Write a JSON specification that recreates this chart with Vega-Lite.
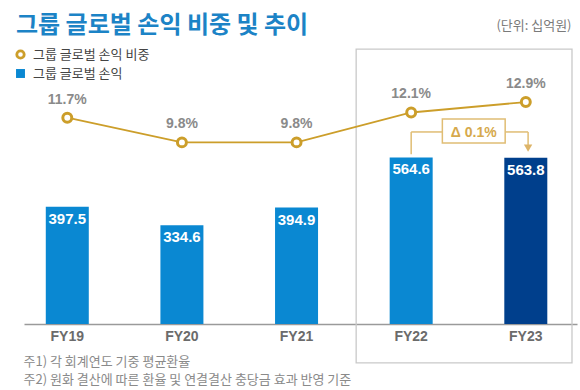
{
  "$schema": "https://vega.github.io/schema/vega-lite/v6.json",
  "width": 553,
  "height": 284,
  "autosize": "none",
  "padding": {"left": 24, "top": 40, "right": 3, "bottom": 66},
  "background": "white",
  "config": {"view": {"stroke": null}, "font": "Noto Sans CJK KR"},
  "title": {
    "text": "그룹 글로벌 손익 비중 및 추이",
    "anchor": "start",
    "frame": "group",
    "dx": -8,
    "offset": -19,
    "fontSize": 24,
    "fontWeight": "bold",
    "color": "#1C83C6",
    "font": "Noto Sans CJK KR"
  },
  "datasets": {
    "main": [
      {"year": "FY19", "idx": 1, "profit": 397.5, "share": 0.117},
      {"year": "FY20", "idx": 2, "profit": 334.6, "share": 0.098},
      {"year": "FY21", "idx": 3, "profit": 394.9, "share": 0.098},
      {"year": "FY22", "idx": 4, "profit": 564.6, "share": 0.121},
      {"year": "FY23", "idx": 5, "profit": 563.8, "share": 0.129}
    ],
    "highlight": [
      {"idx": 3.52, "idx2": 5.403, "lo": -132, "hi": 932}
    ],
    "bracket": [
      {"idx": 4, "idx2": 4, "lo": 575, "hi": 651},
      {"idx": 4, "idx2": 4.272, "lo": 651, "hi": 651},
      {"idx": 4.82, "idx2": 5.02, "lo": 651, "hi": 651},
      {"idx": 5.02, "idx2": 5.02, "lo": 603, "hi": 651}
    ],
    "arrow": [
      {"idx": 5.02, "lo": 596}
    ],
    "delta": [
      {"idx": 4.272, "idx2": 4.82, "mid": 4.546, "lo": 613.6, "hi": 694.9, "center": 649, "label": "Δ 0.1%"}
    ]
  },
  "encoding": {
    "x": {
      "field": "idx",
      "type": "quantitative",
      "scale": {"domain": [0.666, 5.403], "nice": false, "zero": false},
      "axis": {
        "domain": true,
        "domainColor": "#9a9a9a",
        "domainWidth": 1.5,
        "ticks": false,
        "labels": false,
        "grid": false,
        "title": ["주1) 각 회계연도 기중 평균환율", "주2) 원화 결산에 따른 환율 및 연결결산 충당금 효과 반영 기준"],
        "titleAnchor": "start",
        "titleAlign": "left",
        "titleBaseline": "top",
        "titleX": -1,
        "titleY": 31,
        "titleFontSize": 13,
        "titleFontWeight": "normal",
        "titleColor": "#8a8a8a",
        "titleLineHeight": 18,
        "titleFont": "Noto Sans CJK KR"
      }
    }
  },
  "layer": [
    {
      "layer": [
        {
          "data": {"name": "highlight"},
          "mark": {"type": "rect", "fillOpacity": 0, "stroke": "#c9c9c9", "strokeWidth": 1.3},
          "encoding": {
            "x2": {"field": "idx2"},
            "y": {"field": "lo", "type": "quantitative", "scale": {"domain": [0, 962.7], "nice": false, "zero": false}, "axis": {
              "orient": "right", "domain": false, "ticks": false, "labels": false, "grid": false,
              "title": "(단위: 십억원)", "titleAngle": 0, "titleAlign": "right", "titleBaseline": "middle",
              "titleX": -6, "titleY": -15, "titleFontSize": 13, "titleFontWeight": "normal", "titleColor": "#7a7a7a"
            }},
            "y2": {"field": "hi"}
          }
        },
        {
          "data": {"name": "main"},
          "mark": {"type": "bar", "width": 43},
          "encoding": {
            "y": {"field": "profit", "type": "quantitative", "scale": {"domain": [0, 962.7], "nice": false, "zero": false}, "axis": {
              "orient": "right", "domain": false, "ticks": false, "labels": false, "grid": false,
              "title": "(단위: 십억원)", "titleAngle": 0, "titleAlign": "right", "titleBaseline": "middle",
              "titleX": -6, "titleY": -15, "titleFontSize": 13, "titleFontWeight": "normal", "titleColor": "#7a7a7a"
            }},
            "color": {
              "datum": "그룹 글로벌 손익",
              "type": "nominal",
              "scale": {"domain": ["그룹 글로벌 손익"], "range": ["#0A88D2"]},
              "condition": {"test": "datum.year === 'FY23'", "value": "#003F8C"},
              "legend": {
                "orient": "none",
                "legendX": -10,
                "legendY": 27,
                "title": null,
                "labelFontSize": 13,
                "labelColor": "#444444",
                "labelFont": "Noto Sans CJK KR",
                "labelOffset": 6,
                "symbolType": "square",
                "symbolSize": 80
              }
            }
          }
        },
        {
          "data": {"name": "main"},
          "mark": {"type": "text", "dy": 12, "baseline": "middle", "align": "center", "color": "white", "fontSize": 15, "fontWeight": "bold", "font": "Liberation Sans"},
          "encoding": {
            "y": {"field": "profit", "type": "quantitative", "scale": {"domain": [0, 962.7], "nice": false, "zero": false}, "axis": {
              "orient": "right", "domain": false, "ticks": false, "labels": false, "grid": false,
              "title": "(단위: 십억원)", "titleAngle": 0, "titleAlign": "right", "titleBaseline": "middle",
              "titleX": -6, "titleY": -15, "titleFontSize": 13, "titleFontWeight": "normal", "titleColor": "#7a7a7a"
            }},
            "text": {"field": "profit", "type": "quantitative", "format": ".1f"}
          }
        },
        {
          "data": {"name": "main"},
          "mark": {"type": "text", "dy": 13, "baseline": "middle", "align": "center", "color": "#6b6b6b", "fontSize": 14, "fontWeight": "bold", "font": "Liberation Sans"},
          "encoding": {
            "y": {"datum": 0, "type": "quantitative", "scale": {"domain": [0, 962.7], "nice": false, "zero": false}, "axis": {
              "orient": "right", "domain": false, "ticks": false, "labels": false, "grid": false,
              "title": "(단위: 십억원)", "titleAngle": 0, "titleAlign": "right", "titleBaseline": "middle",
              "titleX": -6, "titleY": -15, "titleFontSize": 13, "titleFontWeight": "normal", "titleColor": "#7a7a7a"
            }},
            "text": {"field": "year"}
          }
        },
        {
          "data": {"name": "bracket"},
          "mark": {"type": "rule", "color": "#E0BD74", "strokeWidth": 1.5},
          "encoding": {
            "x2": {"field": "idx2"},
            "y": {"field": "lo", "type": "quantitative", "scale": {"domain": [0, 962.7], "nice": false, "zero": false}, "axis": {
              "orient": "right", "domain": false, "ticks": false, "labels": false, "grid": false,
              "title": "(단위: 십억원)", "titleAngle": 0, "titleAlign": "right", "titleBaseline": "middle",
              "titleX": -6, "titleY": -15, "titleFontSize": 13, "titleFontWeight": "normal", "titleColor": "#7a7a7a"
            }},
            "y2": {"field": "hi"}
          }
        },
        {
          "data": {"name": "arrow"},
          "mark": {"type": "point", "shape": "triangle-down", "filled": true, "color": "#DDB468", "size": 70, "opacity": 1},
          "encoding": {
            "y": {"field": "lo", "type": "quantitative", "scale": {"domain": [0, 962.7], "nice": false, "zero": false}, "axis": {
              "orient": "right", "domain": false, "ticks": false, "labels": false, "grid": false,
              "title": "(단위: 십억원)", "titleAngle": 0, "titleAlign": "right", "titleBaseline": "middle",
              "titleX": -6, "titleY": -15, "titleFontSize": 13, "titleFontWeight": "normal", "titleColor": "#7a7a7a"
            }}
          }
        },
        {
          "data": {"name": "delta"},
          "mark": {"type": "rect", "fill": "white", "stroke": "#E0BD74", "strokeWidth": 1.5},
          "encoding": {
            "x2": {"field": "idx2"},
            "y": {"field": "lo", "type": "quantitative", "scale": {"domain": [0, 962.7], "nice": false, "zero": false}, "axis": {
              "orient": "right", "domain": false, "ticks": false, "labels": false, "grid": false,
              "title": "(단위: 십억원)", "titleAngle": 0, "titleAlign": "right", "titleBaseline": "middle",
              "titleX": -6, "titleY": -15, "titleFontSize": 13, "titleFontWeight": "normal", "titleColor": "#7a7a7a"
            }},
            "y2": {"field": "hi"}
          }
        },
        {
          "data": {"name": "delta"},
          "mark": {"type": "text", "baseline": "middle", "align": "center", "color": "#D6A94C", "fontSize": 14, "fontWeight": "bold", "font": "Liberation Sans"},
          "encoding": {
            "x": {"field": "mid", "type": "quantitative", "scale": {"domain": [0.666, 5.403], "nice": false, "zero": false}},
            "y": {"field": "center", "type": "quantitative", "scale": {"domain": [0, 962.7], "nice": false, "zero": false}, "axis": {
              "orient": "right", "domain": false, "ticks": false, "labels": false, "grid": false,
              "title": "(단위: 십억원)", "titleAngle": 0, "titleAlign": "right", "titleBaseline": "middle",
              "titleX": -6, "titleY": -15, "titleFontSize": 13, "titleFontWeight": "normal", "titleColor": "#7a7a7a"
            }},
            "text": {"field": "label"}
          }
        }
      ]
    },
    {
      "data": {"name": "main"},
      "encoding": {
        "y": {"field": "share", "type": "quantitative", "scale": {"domain": [-0.0417, 0.17675], "nice": false, "zero": false}, "axis": null}
      },
      "layer": [
        {
          "mark": {"type": "line", "color": "#CC9E2A", "strokeWidth": 1.8}
        },
        {
          "mark": {"type": "point", "filled": false, "fill": "white", "strokeWidth": 3, "size": 80, "opacity": 1},
          "encoding": {
            "color": {
              "datum": "그룹 글로벌 손익 비중",
              "type": "nominal",
              "scale": {"domain": ["그룹 글로벌 손익 비중"], "range": ["#CC9E2A"]},
              "legend": {
                "orient": "none",
                "legendX": -10,
                "legendY": 8,
                "title": null,
                "labelFontSize": 13,
                "labelColor": "#444444",
                "labelFont": "Noto Sans CJK KR",
                "labelOffset": 6,
                "symbolSize": 55,
                "symbolStrokeWidth": 2.8,
                "symbolType": "circle"
              }
            }
          }
        },
        {
          "mark": {"type": "text", "dy": -18, "baseline": "middle", "align": "center", "color": "#8a8a8a", "fontSize": 14, "fontWeight": "bold", "font": "Liberation Sans"},
          "encoding": {
            "text": {"field": "share", "type": "quantitative", "format": ".1%"}
          }
        }
      ]
    }
  ],
  "resolve": {"scale": {"y": "independent", "color": "independent"}}
}
